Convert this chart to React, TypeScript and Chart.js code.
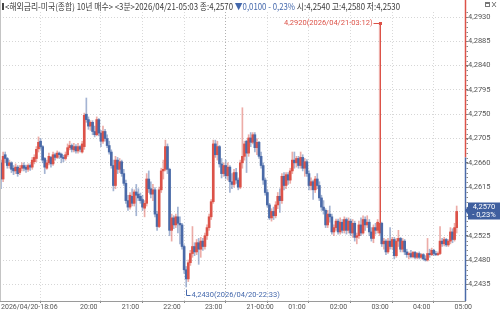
import React, { useEffect, useRef } from 'react';
import { Chart, registerables } from 'chart.js';
Chart.register(...registerables);

// 3-minute candles, 2026/04/20 18:06 -> 2026/04/21 05:03
const opens = [
  4.2660, 4.2630, 4.2675, 4.2668, 4.2655, 4.2660, 4.2650, 4.2645, 4.2652, 4.2642,
  4.2650, 4.2655, 4.2652, 4.2648, 4.2655, 4.2652, 4.2662, 4.2668, 4.2686, 4.2700,
  4.2690, 4.2668, 4.2650, 4.2660, 4.2670, 4.2658, 4.2675, 4.2670, 4.2678, 4.2676,
  4.2670, 4.2668, 4.2675, 4.2688, 4.2692, 4.2684, 4.2690, 4.2682, 4.2690, 4.2680,
  4.2690, 4.2750, 4.2740, 4.2728, 4.2735, 4.2718, 4.2712, 4.2740, 4.2715, 4.2700,
  4.2718, 4.2705, 4.2692, 4.2680, 4.2655, 4.2618, 4.2665, 4.2648, 4.2662, 4.2640,
  4.2622, 4.2590, 4.2578, 4.2598, 4.2585, 4.2606, 4.2602, 4.2598, 4.2592, 4.2576,
  4.2585, 4.2630, 4.2612, 4.2602, 4.2610, 4.2565, 4.2542, 4.2610, 4.2645, 4.2648,
  4.2690, 4.2648, 4.2535, 4.2558, 4.2545, 4.2560, 4.2548, 4.2545, 4.2505, 4.2462,
  4.2445, 4.2475, 4.2492, 4.2505, 4.2495, 4.2512, 4.2500, 4.2515, 4.2505, 4.2525,
  4.2540, 4.2560, 4.2588, 4.2695, 4.2675, 4.2690, 4.2658, 4.2640, 4.2655, 4.2636,
  4.2652, 4.2625, 4.2620, 4.2642, 4.2628, 4.2615, 4.2660, 4.2672, 4.2700, 4.2678,
  4.2706, 4.2698, 4.2712, 4.2688, 4.2698, 4.2672, 4.2655, 4.2628, 4.2605, 4.2582,
  4.2558, 4.2570, 4.2562, 4.2582, 4.2598, 4.2590, 4.2635, 4.2618, 4.2638, 4.2628,
  4.2645, 4.2665, 4.2660, 4.2668, 4.2655, 4.2670, 4.2650, 4.2662, 4.2640, 4.2618,
  4.2625, 4.2610, 4.2630, 4.2618, 4.2595, 4.2578, 4.2572, 4.2545, 4.2565, 4.2560,
  4.2532, 4.2540, 4.2552, 4.2532, 4.2550, 4.2535, 4.2555, 4.2535, 4.2552, 4.2530,
  4.2548, 4.2522, 4.2525, 4.2545, 4.2530, 4.2555, 4.2545, 4.2550, 4.2532, 4.2520,
  4.2540, 4.2535, 4.2530, 4.2548, 4.2510, 4.2515, 4.2495, 4.2515, 4.2505, 4.2518,
  4.2488, 4.2515, 4.2520, 4.2500, 4.2515, 4.2495, 4.2490, 4.2492, 4.2486, 4.2494,
  4.2485, 4.2492, 4.2485, 4.2490, 4.2482, 4.2480, 4.2492, 4.2490, 4.2498, 4.2492,
  4.2490, 4.2492, 4.2515, 4.2510, 4.2518, 4.2508, 4.2515, 4.2532, 4.2518, 4.2540,
];
const highs = [
  4.2665, 4.2680, 4.2680, 4.2670, 4.2665, 4.2662, 4.2655, 4.2658, 4.2655, 4.2655,
  4.2660, 4.2660, 4.2656, 4.2658, 4.2658, 4.2670, 4.2675, 4.2690, 4.2708, 4.2705,
  4.2692, 4.2670, 4.2665, 4.2678, 4.2672, 4.2680, 4.2678, 4.2682, 4.2680, 4.2678,
  4.2674, 4.2680, 4.2695, 4.2700, 4.2695, 4.2696, 4.2694, 4.2696, 4.2692, 4.2700,
  4.2752, 4.2780, 4.2745, 4.2738, 4.2738, 4.2728, 4.2745, 4.2742, 4.2720, 4.2728,
  4.2722, 4.2712, 4.2700, 4.2684, 4.2665, 4.2672, 4.2670, 4.2668, 4.2665, 4.2648,
  4.2628, 4.2600, 4.2605, 4.2612, 4.2610, 4.2620, 4.2612, 4.2604, 4.2600, 4.2590,
  4.2640, 4.2645, 4.2625, 4.2620, 4.2614, 4.2570, 4.2615, 4.2650, 4.2665, 4.2702,
  4.2695, 4.2650, 4.2565, 4.2562, 4.2565, 4.2578, 4.2560, 4.2548, 4.2508, 4.2468,
  4.2480, 4.2498, 4.2542, 4.2512, 4.2518, 4.2520, 4.2522, 4.2520, 4.2530, 4.2545,
  4.2565, 4.2592, 4.2702, 4.2702, 4.2700, 4.2692, 4.2668, 4.2660, 4.2665, 4.2660,
  4.2655, 4.2640, 4.2648, 4.2650, 4.2632, 4.2665, 4.2762, 4.2700, 4.2702, 4.2712,
  4.2716, 4.2716, 4.2716, 4.2705, 4.2700, 4.2680, 4.2660, 4.2632, 4.2610, 4.2585,
  4.2575, 4.2578, 4.2588, 4.2605, 4.2612, 4.2640, 4.2642, 4.2642, 4.2642, 4.2650,
  4.2680, 4.2680, 4.2672, 4.2672, 4.2680, 4.2675, 4.2668, 4.2666, 4.2645, 4.2632,
  4.2628, 4.2635, 4.2640, 4.2625, 4.2600, 4.2590, 4.2575, 4.2572, 4.2580, 4.2565,
  4.2545, 4.2556, 4.2556, 4.2558, 4.2555, 4.2560, 4.2558, 4.2558, 4.2556, 4.2555,
  4.2552, 4.2530, 4.2552, 4.2558, 4.2562, 4.2560, 4.2562, 4.2555, 4.2540, 4.2545,
  4.2548, 4.2555, 4.2920, 4.2550, 4.2520, 4.2518, 4.2520, 4.2540, 4.2522, 4.2522,
  4.2520, 4.2535, 4.2522, 4.2520, 4.2518, 4.2500, 4.2495, 4.2498, 4.2496, 4.2496,
  4.2494, 4.2495, 4.2492, 4.2492, 4.2488, 4.2520, 4.2500, 4.2502, 4.2500, 4.2496,
  4.2495, 4.2542, 4.2520, 4.2522, 4.2520, 4.2518, 4.2540, 4.2538, 4.2548, 4.2580,
];
const lows = [
  4.2612, 4.2625, 4.2660, 4.2650, 4.2650, 4.2642, 4.2638, 4.2640, 4.2635, 4.2638,
  4.2645, 4.2645, 4.2642, 4.2644, 4.2646, 4.2648, 4.2658, 4.2662, 4.2680, 4.2685,
  4.2660, 4.2640, 4.2648, 4.2656, 4.2652, 4.2655, 4.2665, 4.2668, 4.2668, 4.2660,
  4.2662, 4.2665, 4.2672, 4.2684, 4.2680, 4.2680, 4.2678, 4.2678, 4.2680, 4.2678,
  4.2685, 4.2735, 4.2722, 4.2720, 4.2712, 4.2708, 4.2710, 4.2710, 4.2690, 4.2696,
  4.2700, 4.2688, 4.2676, 4.2650, 4.2608, 4.2612, 4.2640, 4.2642, 4.2635, 4.2618,
  4.2585, 4.2572, 4.2574, 4.2580, 4.2580, 4.2562, 4.2590, 4.2585, 4.2572, 4.2560,
  4.2580, 4.2605, 4.2595, 4.2590, 4.2560, 4.2535, 4.2540, 4.2605, 4.2630, 4.2645,
  4.2640, 4.2525, 4.2515, 4.2538, 4.2540, 4.2530, 4.2510, 4.2500, 4.2455, 4.2430,
  4.2440, 4.2470, 4.2485, 4.2488, 4.2490, 4.2472, 4.2485, 4.2498, 4.2500, 4.2518,
  4.2535, 4.2555, 4.2585, 4.2670, 4.2665, 4.2652, 4.2632, 4.2635, 4.2630, 4.2628,
  4.2605, 4.2612, 4.2615, 4.2622, 4.2610, 4.2612, 4.2650, 4.2665, 4.2642, 4.2672,
  4.2690, 4.2695, 4.2680, 4.2675, 4.2668, 4.2650, 4.2620, 4.2600, 4.2578, 4.2555,
  4.2552, 4.2555, 4.2558, 4.2575, 4.2568, 4.2585, 4.2610, 4.2612, 4.2620, 4.2622,
  4.2640, 4.2650, 4.2652, 4.2650, 4.2650, 4.2645, 4.2635, 4.2635, 4.2610, 4.2610,
  4.2592, 4.2605, 4.2612, 4.2590, 4.2572, 4.2565, 4.2540, 4.2540, 4.2550, 4.2528,
  4.2525, 4.2535, 4.2528, 4.2528, 4.2530, 4.2530, 4.2528, 4.2530, 4.2525, 4.2522,
  4.2515, 4.2510, 4.2520, 4.2525, 4.2528, 4.2535, 4.2540, 4.2525, 4.2515, 4.2512,
  4.2528, 4.2530, 4.2525, 4.2505, 4.2500, 4.2490, 4.2492, 4.2500, 4.2500, 4.2482,
  4.2485, 4.2505, 4.2495, 4.2495, 4.2490, 4.2485, 4.2482, 4.2484, 4.2484, 4.2482,
  4.2482, 4.2482, 4.2482, 4.2480, 4.2478, 4.2478, 4.2485, 4.2488, 4.2488, 4.2488,
  4.2488, 4.2490, 4.2505, 4.2506, 4.2505, 4.2505, 4.2510, 4.2512, 4.2515, 4.2530,
];
const closes = [
  4.2630, 4.2672, 4.2668, 4.2655, 4.2660, 4.2648, 4.2645, 4.2652, 4.2640, 4.2650,
  4.2655, 4.2650, 4.2648, 4.2655, 4.2652, 4.2665, 4.2670, 4.2685, 4.2698, 4.2690,
  4.2665, 4.2652, 4.2660, 4.2672, 4.2658, 4.2675, 4.2670, 4.2678, 4.2675, 4.2670,
  4.2668, 4.2675, 4.2688, 4.2692, 4.2685, 4.2690, 4.2682, 4.2690, 4.2685, 4.2695,
  4.2748, 4.2740, 4.2728, 4.2735, 4.2718, 4.2712, 4.2740, 4.2715, 4.2700, 4.2718,
  4.2705, 4.2692, 4.2680, 4.2655, 4.2618, 4.2665, 4.2648, 4.2662, 4.2640, 4.2622,
  4.2590, 4.2578, 4.2600, 4.2585, 4.2606, 4.2600, 4.2595, 4.2590, 4.2578, 4.2585,
  4.2630, 4.2612, 4.2602, 4.2610, 4.2565, 4.2542, 4.2610, 4.2645, 4.2648, 4.2690,
  4.2648, 4.2535, 4.2558, 4.2545, 4.2560, 4.2548, 4.2545, 4.2505, 4.2462, 4.2445,
  4.2475, 4.2492, 4.2505, 4.2495, 4.2512, 4.2500, 4.2515, 4.2505, 4.2525, 4.2540,
  4.2560, 4.2588, 4.2695, 4.2675, 4.2690, 4.2658, 4.2640, 4.2655, 4.2636, 4.2652,
  4.2625, 4.2620, 4.2642, 4.2628, 4.2615, 4.2660, 4.2672, 4.2695, 4.2678, 4.2706,
  4.2698, 4.2712, 4.2688, 4.2698, 4.2672, 4.2655, 4.2628, 4.2605, 4.2582, 4.2558,
  4.2570, 4.2562, 4.2582, 4.2598, 4.2590, 4.2635, 4.2618, 4.2638, 4.2628, 4.2645,
  4.2665, 4.2660, 4.2668, 4.2655, 4.2670, 4.2650, 4.2662, 4.2640, 4.2618, 4.2625,
  4.2610, 4.2630, 4.2618, 4.2595, 4.2578, 4.2572, 4.2545, 4.2565, 4.2560, 4.2532,
  4.2540, 4.2552, 4.2532, 4.2550, 4.2535, 4.2555, 4.2535, 4.2552, 4.2530, 4.2548,
  4.2522, 4.2525, 4.2545, 4.2530, 4.2555, 4.2545, 4.2550, 4.2532, 4.2520, 4.2540,
  4.2535, 4.2550, 4.2548, 4.2510, 4.2515, 4.2495, 4.2515, 4.2505, 4.2518, 4.2488,
  4.2515, 4.2520, 4.2500, 4.2515, 4.2495, 4.2490, 4.2492, 4.2486, 4.2494, 4.2485,
  4.2492, 4.2485, 4.2490, 4.2482, 4.2480, 4.2492, 4.2490, 4.2498, 4.2492, 4.2490,
  4.2492, 4.2515, 4.2510, 4.2518, 4.2508, 4.2515, 4.2532, 4.2518, 4.2540, 4.2570,
];

const xTickIndexes = [0, 38, 58, 78, 98, 118, 138, 158, 178, 198, 218];
const xTickLabels = ['2026/04/20-18:06', '20:00', '21:00', '22:00', '23:00', '21-00:00', '01:00', '02:00', '03:00', '04:00', '05:00'];
const yTickValues = [4.2435, 4.2480, 4.2525, 4.2570, 4.2615, 4.2660, 4.2705, 4.2750, 4.2795, 4.2840, 4.2885, 4.2930];
const maxLabel = '4,2920(2026/04/21-03:12)';
const minLabel = '4,2430(2026/04/20-22:33)';
const prevClose = 4.2670;
const lastClose = 4.2570;
const lastCloseText = '4,2570';
const lastChangeText = '- 0,23%';
const headerParts = [
  { text: '<해외금리-미국(종합) 10년 매수> <3분>2026/04/21-05:03 종:4,2570 ', color: '#3a3a3a' },
  { text: '▼0,0100 - 0,23%', color: '#4468ac' },
  { text: ' 시:4,2540 고:4,2580 저:4,2530', color: '#3a3a3a' },
];

const RED = '#dc5248';
const BLUE = '#4a6aa8';
const RED_W = 'rgba(220,90,80,0.5)';
const BLUE_W = 'rgba(74,106,168,0.5)';

const fmt = (v: number) => v.toFixed(4).replace('.', ',');

const overlay = {
  id: 'overlay',
  afterDatasetsDraw(chart: any) {
    const { ctx, scales } = chart;
    const x = scales.x, y = scales.y;
    let maxI = 0, minI = 0;
    highs.forEach((h, i) => { if (h > highs[maxI]) maxI = i; });
    lows.forEach((l, i) => { if (l < lows[minI]) minI = i; });
    ctx.save();
    ctx.font = '7.5px Roboto';
    ctx.textBaseline = 'middle';
    // max annotation
    const mx = Math.round(x.getPixelForValue(maxI)) + 0.5;
    const my = Math.round(y.getPixelForValue(highs[maxI])) + 0.5;
    ctx.fillStyle = RED; ctx.strokeStyle = RED; ctx.lineWidth = 1;
    ctx.textAlign = 'right';
    ctx.fillText(maxLabel, mx - 8, my + 1);
    ctx.beginPath(); ctx.moveTo(mx - 7, my + 1); ctx.lineTo(mx, my + 1); ctx.stroke();
    ctx.beginPath(); ctx.moveTo(mx, my); ctx.lineTo(mx, y.getPixelForValue(Math.max(opens[maxI], closes[maxI]))); ctx.stroke();
    ctx.fillRect(mx - 1.5, my - 0.5, 3, 3);
    // min annotation
    const nx = Math.round(x.getPixelForValue(minI)) + 0.5;
    const ny = Math.round(y.getPixelForValue(lows[minI])) + 0.5;
    ctx.fillStyle = '#4468ac'; ctx.strokeStyle = '#4468ac';
    ctx.beginPath(); ctx.moveTo(nx, ny + 2); ctx.lineTo(nx, ny + 8); ctx.lineTo(nx + 4, ny + 8); ctx.stroke();
    ctx.textAlign = 'left';
    ctx.fillText(minLabel, nx + 5, ny + 8);
    ctx.restore();
  },
  afterDraw(chart: any) {
    const { ctx, scales, chartArea } = chart;
    const y = scales.y;
    ctx.save();
    // left border
    ctx.strokeStyle = '#c4c4c4'; ctx.lineWidth = 1;
    ctx.beginPath(); ctx.moveTo(0.5, 0); ctx.lineTo(0.5, chartArea.bottom); ctx.stroke();
    // right axis line split at previous close
    const ax = chartArea.right + 0.5;
    const sy = y.getPixelForValue(prevClose);
    ctx.lineWidth = 1.5;
    ctx.strokeStyle = RED;
    ctx.beginPath(); ctx.moveTo(ax, 0); ctx.lineTo(ax, sy); ctx.stroke();
    ctx.strokeStyle = BLUE;
    ctx.beginPath(); ctx.moveTo(ax, sy); ctx.lineTo(ax, chartArea.bottom); ctx.stroke();
    // minor ticks
    ctx.strokeStyle = '#888'; ctx.lineWidth = 1;
    for (let k = 0; k < 60; k++) {
      const v = yTickValues[0] - 0.0009 + k * 0.0009;
      const py = y.getPixelForValue(v);
      if (py < chartArea.top || py > chartArea.bottom) continue;
      const p = Math.round(py) + 0.5;
      ctx.beginPath(); ctx.moveTo(ax + 1, p); ctx.lineTo(ax + 2.5, p); ctx.stroke();
    }
    // current price box
    const py = y.getPixelForValue(lastClose);
    ctx.fillStyle = '#3f5f9f';
    ctx.beginPath();
    ctx.moveTo(465, py - 1);
    ctx.lineTo(468, py - 5);
    ctx.lineTo(468, py - 9);
    ctx.lineTo(500, py - 9);
    ctx.lineTo(500, py + 8);
    ctx.lineTo(468, py + 8);
    ctx.lineTo(468, py + 3);
    ctx.closePath();
    ctx.fill();
    ctx.fillStyle = '#ffffff';
    ctx.font = '7.5px Roboto';
    ctx.textAlign = 'center';
    ctx.textBaseline = 'middle';
    ctx.fillText(lastCloseText, 484, py - 4.5);
    ctx.fillText(lastChangeText, 484, py + 3.5);
    // header
    ctx.fillStyle = '#444';
    ctx.fillRect(2, 3, 2, 7);
    ctx.font = '9px "Noto Sans CJK KR"';
    ctx.textAlign = 'left';
    const full = headerParts.map(p => p.text).join('');
    const total = ctx.measureText(full).width;
    const sx = (400 - 5) / total;
    ctx.translate(5, 0);
    ctx.scale(sx, 1);
    let cx = 0;
    headerParts.forEach(p => {
      ctx.fillStyle = p.color;
      ctx.fillText(p.text, cx, 7);
      cx += ctx.measureText(p.text).width;
    });
    ctx.setTransform(1, 0, 0, 1, 0, 0);
    // window icons
    ctx.strokeStyle = '#777'; ctx.lineWidth = 1;
    ctx.strokeRect(485.5, 2.5, 4, 4);
    ctx.beginPath(); ctx.moveTo(485.5, 3.5); ctx.lineTo(489.5, 3.5); ctx.stroke();
    ctx.beginPath(); ctx.moveTo(492, 2); ctx.lineTo(496, 7); ctx.moveTo(496, 2); ctx.lineTo(492, 7); ctx.stroke();
    ctx.restore();
  },
};

export default function App() {
  const ref = useRef<HTMLCanvasElement>(null);
  useEffect(() => {
    document.body.style.margin = '0';
    const canvas = ref.current!;
    const idx = closes.map((_, i) => i);
    const up = idx.map(i => closes[i] >= opens[i]);
    const chart = new Chart(canvas, {
      type: 'bar',
      data: {
        datasets: [
          {
            label: 'wick',
            data: idx.map(i => ({ x: i, y: [Math.min(lows[i], opens[i], closes[i]), Math.max(highs[i], opens[i], closes[i])] })) as any,
            backgroundColor: idx.map(i => (up[i] ? RED_W : BLUE_W)),
            barThickness: 1,
            grouped: false,
            order: 2,
          },
          {
            label: 'body',
            data: idx.map(i => ({ x: i, y: [opens[i], closes[i]] })) as any,
            backgroundColor: idx.map(i => (up[i] ? RED : BLUE)),
            barThickness: 2,
            minBarLength: 1,
            grouped: false,
            order: 1,
          },
        ],
      },
      options: {
        animation: false,
        responsive: false,
        maintainAspectRatio: false,
        layout: { padding: { top: 12, left: 0, right: 0, bottom: 0 } },
        plugins: { legend: { display: false }, tooltip: { enabled: false } },
        scales: {
          x: {
            type: 'linear',
            min: -0.5,
            max: 223,
            offset: false,
            afterBuildTicks: (s: any) => { s.ticks = xTickIndexes.map(v => ({ value: v })); },
            afterFit: (s: any) => { s.height = 13; },
            ticks: {
              autoSkip: false,
              maxRotation: 0,
              minRotation: 0,
              align: 'start',
              padding: 0,
              color: '#555',
              font: { size: 7, family: 'Roboto' },
              callback: (v: any) => {
                const k = xTickIndexes.indexOf(Number(v));
                return k >= 0 ? xTickLabels[k] : '';
              },
            },
            grid: {
              color: (c: any) => (c.tick && c.tick.value === 118 ? '#b0b0b0' : '#d9d9d9'),
              lineWidth: 1,
              drawTicks: true,
              tickLength: 2,
              tickColor: '#888',
              tickBorderDash: [],
            },
            border: { display: true, color: '#9a9a9a', width: 1, dash: [1, 2] },
          },
          y: {
            type: 'linear',
            position: 'right',
            min: 4.24041,
            max: 4.29393,
            afterBuildTicks: (s: any) => { s.ticks = yTickValues.map(v => ({ value: v })); },
            afterFit: (s: any) => { s.width = 35; },
            ticks: {
              padding: 0,
              color: '#555',
              font: { size: 7.5, family: 'Roboto' },
              callback: (v: any) => fmt(Number(v)),
            },
            grid: {
              color: '#d6d6d6',
              lineWidth: 1,
              drawTicks: true,
              tickLength: 3,
              tickColor: '#777',
              tickBorderDash: [],
            },
            border: { display: false, dash: [1, 2] },
          },
        },
      },
      plugins: [overlay],
    });
    return () => chart.destroy();
  }, []);
  return (
    <div style={{ width: 500, height: 314, background: '#fff' }}>
      <canvas ref={ref} width={500} height={314} style={{ display: 'block' }} />
    </div>
  );
}
